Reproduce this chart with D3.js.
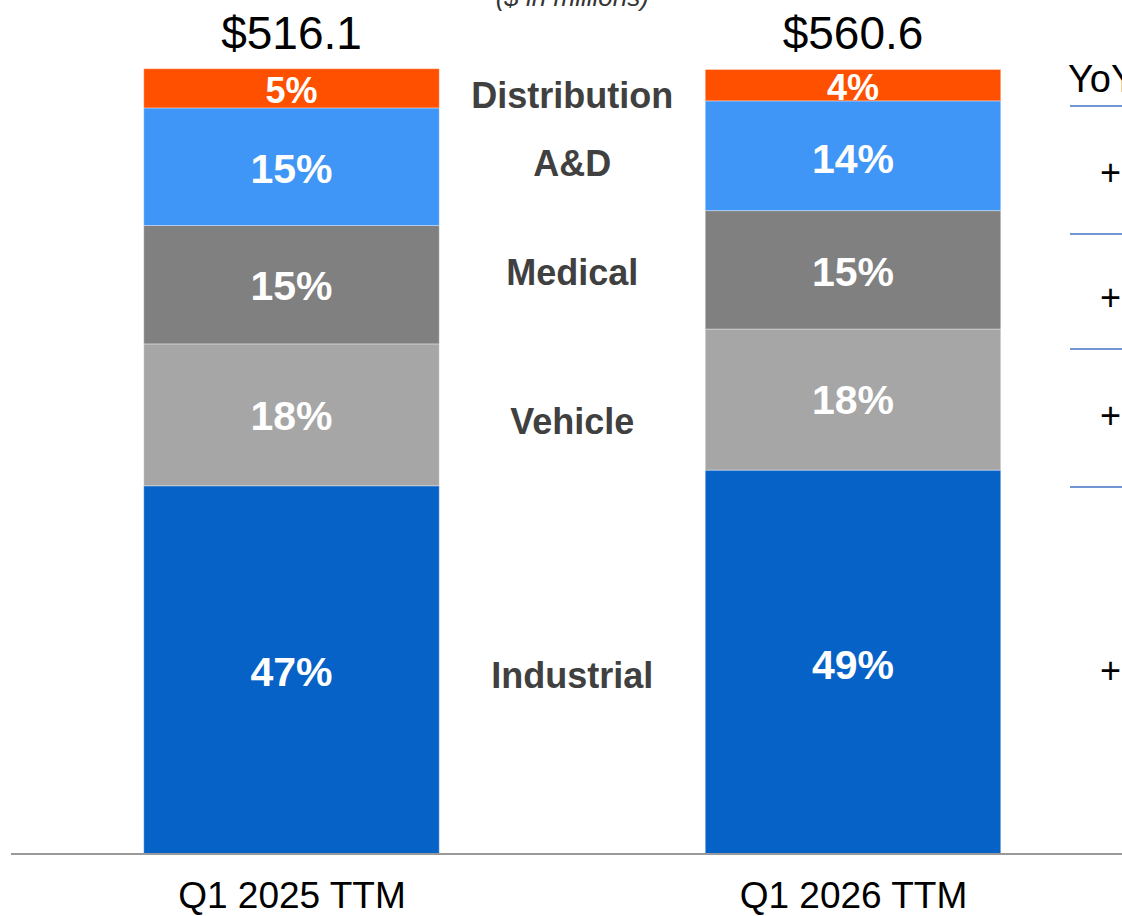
<!DOCTYPE html>
<html>
<head>
<meta charset="utf-8">
<script src="https://cdn.jsdelivr.net/npm/d3@7"></script>
<style>
  html, body { margin: 0; padding: 0; background: #fff; }
  svg { display: block; font-family: "Liberation Sans", Arial, sans-serif; }
</style>
</head>
<body>
<svg id="chart" width="1122" height="916"></svg>
<script>
// ---------------- DATA ----------------
const periods = ["Q1 2025 TTM", "Q1 2026 TTM"];
const totals = [516.1, 560.6];                       // $ in millions
const segments = ["Industrial", "Vehicle", "Medical", "A&D", "Distribution"]; // bottom -> top
const share2025 = [46.9, 18.1, 15.1, 15.0, 5.0];     // % of total (bar heights)
const share2026 = [48.9, 18.0, 15.1, 14.0, 4.0];
const labels2025 = ["47%", "18%", "15%", "15%", "5%"];
const labels2026 = ["49%", "18%", "15%", "14%", "4%"];
const yoyHeader = "YoY";
const yoySigns = ["+", "+", "+", "+"];               // only the visible part (A&D, Medical, Vehicle, Industrial)

// ---------------- STYLE / LAYOUT ----------------
const colors = {
  "Industrial": "#0762C8",
  "Vehicle": "#A6A6A6",
  "Medical": "#808080",
  "A&D": "#3F96F7",
  "Distribution": "#FF5000"
};
const W = 1122, H = 916;
const plotTop = 69.5, plotBottom = 853.5;
const midLabelNudge = { "Distribution": 8, "A&D": 2, "Medical": -5, "Vehicle": 14, "Industrial": 9 };
const inLabelSize = { "Distribution": 36, "A&D": 41, "Medical": 41, "Vehicle": 41, "Industrial": 41 };
const inLabelNudge = { "Distribution": 2, "A&D": 2, "Medical": 1, "Vehicle": 0, "Industrial": 2 };

const svg = d3.select("#chart");

const xb = d3.scalePoint().domain(periods).range([291.5, 853]);
const barW = 295.5;
const y = d3.scaleLinear().domain([0, 100]).range([plotBottom, plotTop]);

const rows = periods.map((p, i) => {
  const o = { period: p };
  const sh = i === 0 ? share2025 : share2026;
  segments.forEach((s, j) => o[s] = sh[j]);
  return o;
});
const stack = d3.stack().keys(segments)(rows);
const labelsBy = [labels2025, labels2026];

// bars
const g = svg.append("g");
stack.forEach((layer, li) => {
  layer.forEach((d, pi) => {
    const x0 = xb(periods[pi]) - barW / 2;
    g.append("rect")
      .attr("x", x0)
      .attr("y", y(d[1]))
      .attr("width", barW)
      .attr("height", y(d[0]) - y(d[1]))
      .attr("fill", colors[layer.key])
      .attr("stroke", "#ffffff")
      .attr("stroke-opacity", 0.35)
      .attr("stroke-width", 1);
    g.append("text")
      .attr("x", xb(periods[pi]))
      .attr("y", (y(d[0]) + y(d[1])) / 2 + inLabelNudge[layer.key])
      .attr("dy", "0.36em")
      .attr("text-anchor", "middle")
      .attr("fill", "#ffffff")
      .attr("font-weight", "bold")
      .attr("font-size", inLabelSize[layer.key])
      .text(labelsBy[pi][li]);
  });
});

// middle segment labels
const midX = (xb(periods[0]) + xb(periods[1])) / 2;
stack.forEach(layer => {
  const c0 = (y(layer[0][0]) + y(layer[0][1])) / 2;
  const c1 = (y(layer[1][0]) + y(layer[1][1])) / 2;
  svg.append("text")
    .attr("x", midX)
    .attr("y", (c0 + c1) / 2 + midLabelNudge[layer.key])
    .attr("dy", "0.36em")
    .attr("text-anchor", "middle")
    .attr("fill", "#404040")
    .attr("font-weight", "bold")
    .attr("font-size", 36)
    .text(layer.key);
});

// totals above bars
periods.forEach((p, i) => {
  svg.append("text")
    .attr("x", xb(p))
    .attr("y", 49)
    .attr("text-anchor", "middle")
    .attr("fill", "#000")
    .attr("font-size", 46)
    .text("$" + d3.format(".1f")(totals[i]));
});

// title (cropped at top in the reference)
svg.append("text")
  .attr("x", midX)
  .attr("y", 6)
  .attr("text-anchor", "middle")
  .attr("fill", "#333")
  .attr("font-style", "italic")
  .attr("font-size", 26)
  .text("($ in millions)");

// baseline + category labels
svg.append("line")
  .attr("x1", 11).attr("x2", W)
  .attr("y1", plotBottom + 0.5).attr("y2", plotBottom + 0.5)
  .attr("stroke", "#999").attr("stroke-width", 2);
const axis = d3.axisBottom(xb).tickSize(0).tickPadding(0);
const ax = svg.append("g").attr("transform", `translate(0,${plotBottom})`).call(axis);
ax.select(".domain").remove();
ax.selectAll("text")
  .attr("y", 0)
  .attr("dy", 0)
  .attr("transform", "translate(0,54)")
  .attr("fill", "#000")
  .attr("font-size", 37)
  .attr("font-family", "'Liberation Sans', Arial, sans-serif");

// YoY column (cropped at right in the reference)
svg.append("text")
  .attr("x", 1068).attr("y", 92)
  .attr("fill", "#000").attr("font-size", 38)
  .text(yoyHeader);
const sepY = [106, 234, 349, 487];
sepY.forEach(yy => {
  svg.append("line")
    .attr("x1", 1070).attr("x2", W)
    .attr("y1", yy).attr("y2", yy)
    .attr("stroke", "#4472C4").attr("stroke-width", 1.5);
});
const signY = [172, 297, 415, 670];
yoySigns.forEach((s, i) => {
  svg.append("text")
    .attr("x", 1100).attr("y", signY[i])
    .attr("dy", "0.36em")
    .attr("fill", "#000").attr("font-size", 36)
    .text(s);
});
</script>
</body>
</html>
